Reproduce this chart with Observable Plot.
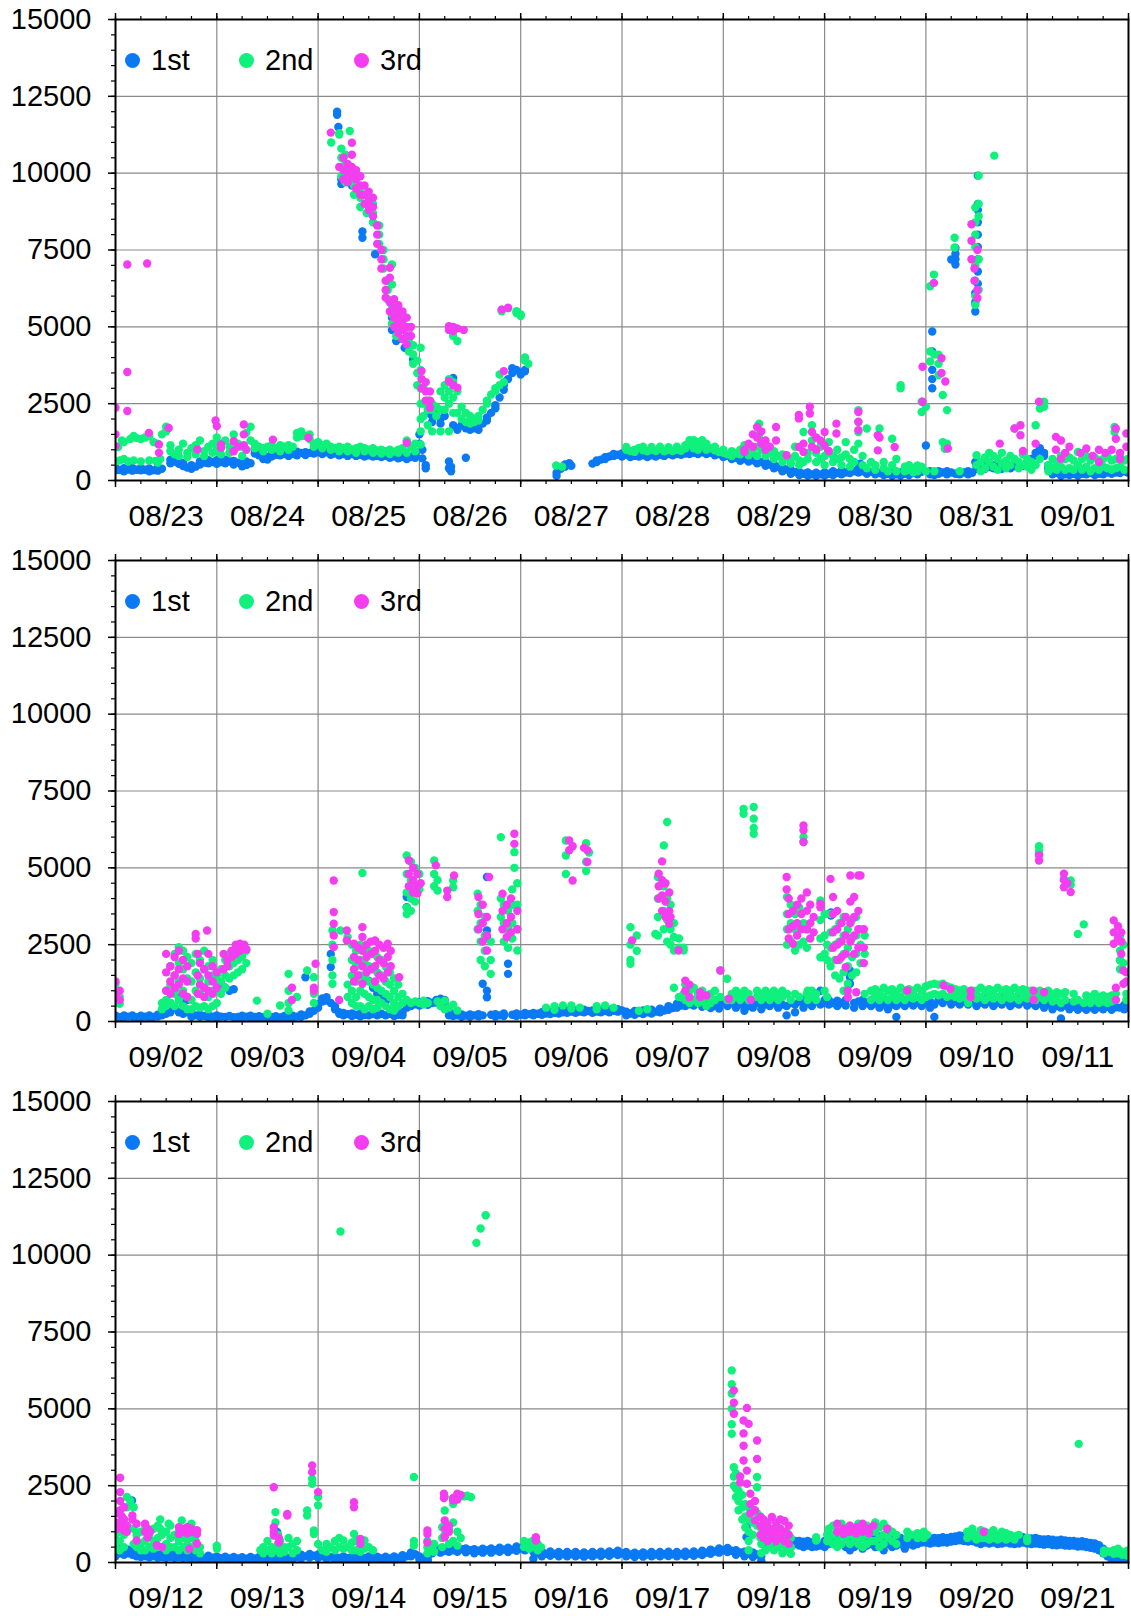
<!DOCTYPE html>
<html>
<head>
<meta charset="utf-8">
<script src="https://cdn.jsdelivr.net/npm/d3@7"></script>
<script src="https://cdn.jsdelivr.net/npm/@observablehq/plot@0.6"></script>
<style>
  body { margin: 0; background: #fff; }
  #wrap { position: relative; width: 1131px; height: 1616px; font-family: "Liberation Sans", Arial, Helvetica, sans-serif; }
  #wrap svg { display: block; }
  .leg { position: absolute; display: flex; align-items: center; font-size: 29px; color: #000; line-height: 1; }
  .leg i { display: inline-block; width: 15px; height: 15px; border-radius: 50%; margin-right: 11px; }
</style>
</head>
<body>
<div id="wrap"></div>
<script>
// ---------- labels, categories ----------
const seriesNames = ["1st", "2nd", "3rd"];
const seriesColors = ["#0a79f4", "#0ff07c", "#f43cf0"];
const panelStarts = ["2021-08-23", "2021-09-02", "2021-09-12"];
const yTicks = [0, 2500, 5000, 7500, 10000, 12500, 15000];
const yMinorTicks = d3.range(0, 15001, 500);

// ---------- data: rows are [hours since panel start, value, value, ...] ----------
const p1_1st = [[0,330,420],[1,340],[2,300,400],[3,360],[4,320,410],[5,350],[6,330,400],[7,350],[8,300,390],[9,330],[10,320,420],[11,380],
[13,560,680],[14,620],[15,540,640],[16,470,560],[17,420],[18,380,500],[19,450],[20,520,620],[21,580],[22,560,660],[23,600],[24,540,660],[25,600],[26,560,680],[27,620],[28,520,640],[29,580],[30,460,560],[31,500,620],[32,560],[33,880,1000],[34,820,940],[35,700,780],[36,680,760],[37,780,880],[38,840],[39,820,940],[40,860],[41,800,900],[42,860],[43,820,940],[44,900],[45,830,920],[46,900],[47,880,980],[48,920],[49,860,1000],[50,920],[51,840,960],[52,880],[53,820,940],[54,860],[55,800,920],[56,860],[57,800,900],[58,840],[59,780,900],[60,820],[61,780,880],[62,800],[63,760,860],[64,800],[65,740,860],[66,780],[67,720,840],[68,760],[69,700,820],[70,760],[71,740,860],
[52.5,12000,11900],[52.8,11500],[53.5,9800,9650],[54.5,9950],[56,9600],[58.5,8100,7900],[61.5,7360],[65.5,5300,4900],[66.5,4540],[68.5,4320],[70.5,3940],[72,1500,1200],[72.7,1000,720],[73.5,500,400],[74,2200],[75,2100,1900],[76,2250],[77,2000,1850],[78,2100],[79,620,400],[79.5,300,450],[80,3340,1800],[81,1700,1650],[82,1800],[83,740,1700],[84,1650,1750],[85,1700],[86,1800,1650],[87,1850],[88,1950,2050],[89,2200],[90,2350,2450],[91,2700],[92,2950,3100],[93,3300],[94,3500,3650],[95,3600],[96,3500,3450],[97,3600,3550],
[104.5,250,150],[105.5,380],[106.5,450,520],[107.5,560],[108,480],
[113,550],[114,600,650],[115,680],[116,700,760],[117,780],[118,800,860],[119,840],[120,780,880],[121,840],[122,760,860],[123,800],[124,780,880],[125,820],[126,760,880],[127,820],[128,780,900],[129,840],[130,800,900],[131,860],[132,820,920],[133,860],[134,840,940],[135,880],[136,860,960],[137,900],[138,860,960],[139,920],[140,860,960],[141,900],[142,820,920],[143,860],[144,760,860],[145,800],[146,700,800],[147,740],[148,640,760],[149,700],[150,620,720],[151,660],[152,560,680],[153,600],[154,480,600],[155,520],[156,400,520],[157,440],[158,300,420],[159,360],[160,220,340],[161,280],[162,180,280],[163,220],[164,160,260],[165,200],[166,150,250],[167,200],[168,160,260],[169,220],[170,180,300],[171,240],[172,200,320],[173,260],[174,240,380],[175,300],[176,260,380],[176.5,550],[177,300],[178,220,340],[179,280],[180,200,300],[181,240],[182,180,280],[183,220],[184,150,250],[185,200],[186,160,260],[187,220],[188,180,300],[189,240],[190,200,320],[191,280],
[192,1140],[193,200,300],[193.5,3000,3300,3600,4200,4850],[194,260,180],[195,220,300],[196,260],[197,200,300],[198,7190,260],[199,7570,7380,7200,7030,220],[200,280,200],[201,260],[202,200,300],[203,250],[203.7,5500,5800,6100,600],[204.3,6400,6800,7200,7600,8000,8400,8800,9000,9920],[204,380,480],[205,420],[206,380,480],[207,440],[208,400,500],[209,450],[210,380,480],[211,440],[212,400,500],[213,460],[214,420,520],[215,480],[216,500,600],[217,700],[218,800,900],[219,1000,1050],[220,900,800],[221,500,400],[222,300,200],[223,250],[224,150,280],[225,200],[226,180,300],[227,220],[228,160,280],[229,220],[230,200,300],[231,240],[232,180,300],[233,220],[234,200,320],[235,260],[236,220,340],[237,260],[238,240,360],[239,300],[239.8,260]];

const p1_2nd = [[0,620,1100],[0.6,1085],[1,650],[1.5,1300],[2,700,1250],[3,620],[3.5,1350],[4.3,1450,650],[5,1380],[6,620,1350],[7,1400],[8,650,1450],[9,1250],[9.5,640],[10,1200,580],[10.6,700],[11,1500],[12,1750,1600],[13,1150,950],[14,850],[15,1000,800],[16,1200],[17,900,760],[18,1050],[19,1150,850],[20,1300],[21,950,800],[22,1100],[23,1200,900],[24,1400,1000],[25,850,1200],[26,1300],[27,900,1100],[28,1500,1000],[29,1200],[30,800,1100],[31,1550],[32,1750,1300],[33,1200,1050],[34,1100],[35,950,1050],[36,1100],[37,1000,1150],[38,1050],[39,950,1150],[40,1100],[41,1000,1150],[42,1100],[43,1550,1400],[44,1600,1450],[45,1450],[46,1500,1350],[47,1200,1100],[48,1250],[49,1150,1050],[50,1200],[51,1000,1100],[52,1050],[53,950,1100],[54,1050],[55,950,1100],[56,1000],[57,900,1050],[58,1100],[59,950,1050],[60,1000],[61,900,1050],[62,980],[63,880,1000],[64,950],[65,860,1000],[66,940],[67,900,1000],[68,1050],[69,900,1300],[70,1100],[71,950,1200],
[51.1,11000],[53,11260,11300],[53.5,10800,10500,10200,9900],[54.5,10600,10300,10000,9700],[55.5,11370,10200,9800],[56.5,10000,9600,9300],[58,9500,9200,8900],[59.5,9300,9000,8700],[61,9000,8700,8400],[62.5,8300,8000,7700],[63.5,7500,7200,6900],[64.5,6500,6200,5900],[65.5,5700,5400,5100,7030,6380],[66.5,5600,5300,5000,4700],[68,5400,5000,4600],[69.5,4900,4500,4200],[70.5,4400,4100,3800],[71.5,3900,3500,3100],[72.3,4320,3600,3000,2500,2000,1600,1170],[73,3000,2500,2100],[74,2600,2300,1800],[75,2500,2300,1600],
[76,2400,2100],[77,2900,2300,1600],[78,3100,2700,2300],[79,3300,2900,2500,1600],[80,4860,4700,3200,2700,2200],[81,4540,2900,2200],[82,2400,2000],[83,2200,1900],[84,2100,1850],[85,2000,1900],[86,2100,1950],[87,2300],[88,2500,2600],[89,2800],[90,2900,3000],[91,3450,3100],[91.5,5560,5510],[92,3200],[93,5600],[95,5510,5450],[96,5400,5350],[97,4000,3900],[97.8,3800],
[104.4,490],[105.8,450],[121,1000,1090],[122,960],[123,1000,930],[124,1060],[125,980,1100],[126,950],[127,1000,1090],[128,960],[129,1020,1100],[130,950],[131,990,1080],[132,960],[133,1000,1100],[134,970],[135,1050,1150],[136,1310,1200],[137,1310,1050],[138,1250,1000],[139,1310,1150],[140,1200,1000],[141,1050],[142,980,1100],[143,930],[144,900,1000],[145,850],[146,800,950],[147,880],[148,850,1000],[149,950,1150],[150,820,1000],[151,900],[152,1100,800],[152.5,1850,1500],[153,1300,1000],[154,800,1050],[155,900],[156,700,950],[157,800],[158,600,850],[159,750],[160,550,700],[161,1100,800],[162,500,650],[163,1580,600],[164,900,700],[165,1800,1300],[166,600,900],[167,1100,700],[168,500,800],[169,1250,900],[170,600,800],[171,1000,700],[172,500,750],[173,1250,850],[174,700,450],[175,1000,600],[176,2290,1900,1580,1200],[177,800,500],[178,1690,400],[179,600],[180,350,500],[181,1690],[182,400,600],[183,300],[184,1360,500],[185,700,300],[186,3100,3000],[187,450,300],[188,350,500],[189,270,400],[190,300,490],[191,2560,2230,450],[192,2400,300],[193,4200,3870,6320],[193.9,6700],[194,4100,300],[195,4090,3430,3800],[196,1250,2780],[196.5,1030,1100],[197,2290,1200],[198.8,7900,7580],[200,300],
[203.7,8880,8400,8000,7600,7000,6500,6000,5720],[204.5,9920,9000,8600,7200,6200],[208.2,10570],[204,820,500],[205,600,300],[206,750,400],[207,900,600],[208,800,450],[209,700,350],[210,900,550],[211,650,400],[212,800,500],[213,1690,700],[214,600,400],[215,850,500],[216,700,450],[217,600,350],[218,1800,500],[219,2340,700],[220,2560,2400],[221,500,300],[222,700,400],[223,600,350],[224,800,450],[225,700,350],[226,750,400],[227,650,350],[228,930,500],[229,700,350],[230,800,450],[231,650,300],[232,750,400],[233,650,350],[234,700,450],[235,800,400],[236,650,350],[236.7,1740,1580],[237,700,400],[238,800,450],[239,650,350],[239.8,700]];

const p1_3rd = [[0,2365,1500,1120],[2.8,7030,3530,2260],[7.5,7060],[7.9,1550],[10.3,1170,900],[12.6,1710],[19.4,1010],[23.7,1950],[24,1770],[25,1170,1060],[28,1280,950],[29,1100],[30.4,1820,1500,1150],[31,1000],[37.3,1330],[45.7,1390],[69,1230],
[51,11320],[53,10200],[54,10500,10100,9800],[55,10300,10000,9700],[56,10990,10600,10200,9900],[57,10100,9800,9500],[58,9900,9600,9300],[59,9600,9300,9000],[60,9400,9100,8800],[61,9200,8900,8600],[62,8300,8000,7700],[63,7500,7200,6900],[64,6500,6200,5950],[65,6920,6600,5800,5500],[66,5900,5600,5300,5000],[67,5700,5400,5100,4800],[68,5500,5200,4900,4600],[69,5300,5000,4700,4430],[70,5000,4700],[72.5,3560,3300,3000],[73.5,3200,2900,2600],[74.5,2900,2600,2370],
[79,5020,4900,3230],[80,4860,5000,3100],[81,3020,4950],[82.5,4900],[91.5,5560],[92,3560],[93,5620],
[149,1000,930],[150,1200],[151,1500,1100],[152,1740,1400],[153,1600,1200],[154,1300,1000],[155,1100],[156.5,1740,1300],[159,820],[161.9,2130,2020,1090],[163,1200,930],[164.5,2400,2180],[165,1580,1100],[166,1400,1000],[167,1300],[168,1580,1140],[169,960],[170.8,1850,1530],[176,2230,1910,1640],[180.6,1470,980],[181,1400],[184.6,1090],[191.2,3700,2560],[193.9,6430],[195.7,3980,3500],[196.6,3220],[197.2,1040],[202.8,8340,7800,7200],[203.5,6900,6500],[204.2,6200,5940,7500],[209.5,1200],[213,1690],[214.4,1800,1470],[215,960],[218,1200],[218.8,2560],[222.8,1420,1000],[224,1300,710],[225,900],[226,1100],[228.6,900],[230,1040],[231.5,800],[233,1000,600],[234.5,900],[236,1000],[237,1690,1360],[238,900,700],[239.5,1530,1100]];

const p2_1st = [[0,150,200],[1,140],[2,130,200],[3,160],[4,150,200],[5,140],[6,130,190],[7,160],[8,140,200],[9,150],[10,160,220],[11,300,200],[12,410,250],[13,600,300],[14,1000,450],[15,800,300],[16,575,250],[17,700,300],[18,250,150],[19,200],[20,150,220],[21,180],[22,140,210],[23,160],[24,120,200],[25,1230,160],[26,1100,150],[27,1000,180],[28,1050,140],[29,150],[30,120,190],[31,160],[32,110,190],[33,150],[34,100,170],[35,140],[36,100,180],[37,140],[38,90,170],[39,130],[40,100,180],[41,150],[42,120,190],[43,160],[44,150,230],[45,1440,200],[46,250,330],[47,350],[48,450,560],[49,650,750],[50,790,680],[51,2200,1770,600],[52,500,400],[53,300,250],[54,200,280],[55,240],[56,180,260],[57,220],[58,170,250],[59,210],[60,1330,200],[61,1100,240],[62,900,200],[63,790,250],[64,650,200],[65,250],[66,180,260],[67,220],[68,200,300],[69,4050,3720,450],[70,500,600],[71,560],[72,520,640],[73,580],[74,540,660],[75,600],[76,620,700],[77,740,650],[78,700,575],[79,300,200],[80,180,250],[81,200],[82,150,230],[83,190],[84,150,230],[85,200],[86,170,240],[87,1230,200],[88,790,1000,2960,2750,4700],[89,220],[90,160,240],[91,200],[92,180,260],[93,1880,1550,3070],[94,220],[95,180,260],[96,220],[97,200,280],[98,240],[99,200,280],[100,250],[101,220,300],[102,260],[103,240,320],[104,280],[105,260,340],[106,300],[107,280,360],[108,320],[109,280,360],[110,320],[111,300,380],[112,340],[113,280,360],[114,320],[115,300,380],[116,340],[117,300,380],[118,350],[119,320,400],[120,360],
[121,200,320],[122,260],[123,220,340],[124,280],[125,240,360],[126,300],[127,260,380],[128,320],[129,300,420],[130,360],[131,380,500],[132,440],[133,450,580],[134,520],[135,500,640],[136,560],[137,520,680],[138,600],[139,480,640],[140,560],[141,440,600],[142,500],[143,420,560],[144,620],[145,500,700],[146,600],[147,450,650],[148,550],[149,350,600],[150,500],[151,450,700],[152,600],[153,400,650],[154,550],[155,500,700],[156,600],[157,450,650],[158,550],[159,200,500],[160,600],[161,300,550],[162,650],[163,450,700],[164,600],[165,500,750],[166,650],[167,1000,550],[168,700,600],[169,550,700],[169.5,3550,3450],[170,600],[171,500,680],[172,600],[173,520,700],[174,1660,1430,1230],[175,600,450],[176,650],[177,500,700],[178,600],[179,500,700],[180,600],[181,450,650],[182,550],[183,400,650],[184,550],[185,150,500],[186,600],[187,500,700],[188,600],[189,520,700],[190,620],[191,500,700],[192,600],[193,450,650],[194,150,550],[195,700],[196,600,800],[197,700],[198,550,750],[199,650],[200,550,750],[201,650],[202,550,750],[203,650],[204,500,700],[205,620],[206,550,750],[207,650],[208,500,720],[209,620],[210,550,750],[211,650],[212,500,700],[213,600],[214,550,740],[215,650],[216,520,720],[217,600],[218,500,680],[218.8,5460],[219,580],[220,450,650],[221,550],[222,400,600],[223,500],[224,100,450],[225,520],[226,400,600],[227,480],[228,380,560],[229,460],[230,380,560],[231,460],[232,380,560],[233,460],[234,400,560],[235,480],[236,380,560],[237,460],[238,1990,450],[239,400,540],[240,460]];

const p2_2nd = [[0,1220,900,600],[1,800,575],[11,600,400],[12,1000,700,500],[13,1800,1200,600],[14,2200,1500,900,500],[15,2420,1900,1300,700],[16,2300,1700,1000,500],[17,2100,1400,800,400],[18,1900,1300,700,400],[19,2200,1600,1000,500],[20,2000,1400,900,450],[21,2300,1700,1100,500],[22,1800,1300,800,400],[23,2000,1500,1000,500],[24,1500,1000,600],[25,1700,1300,900],[26,2000,1500,1100],[27,2200,1800,1400],[28,2300,1900,1500],[29,2400,2000,1600],[30,2420,2100,1700],[31,2300,1900],[33.5,680],[36,250],[39,520],[41,1550,1000,600,360],[43,800],[45.4,1660],[47,1440,900,600],[51.4,2960,2500,2000,1500,1230],[53.3,2960],[55,2750,1200,800],[56,2500,2000,1500,1000,600],[57,2300,1800,1300,800,500],[58,2500,2000,1500,1000,500],[58.5,4830],[59,2400,1900,1400,900,400],[60,2300,1800,1300,800,500],[61,2200,1700,1200,700,400],[62,2100,1600,1100,700,450],[63,2000,1500,1000,600],[64,1800,1300,900,500],[65,1600,1200,800,400],[66,1400,1000,600,360],[67,1200,800,500],[68,900,600],[69,5400,4800,4200,3700,3500,700],[70,5200,4600,4000,3600,600],[71,5000,4400,3900,650],[72,4800,4300,600],[73,550,680],[74,600],[75.5,5240,4800,4400],[76.3,4600,4260,650],[77,500],[78,680,400],[79,450],[80,4590,4370,550],[81,360],[85.8,4160,3600,3000],[86.5,3800,3200,2600,2000],[87.5,3400,2800,2300,1800],[88.9,2600,2000,1550],[91.3,6000,4000,3400],[92,3800,3200,2600],[93,3600,3000,2400],[94,4300,3800,3200,2700],[94.5,5510,5000],[95.2,4500,3800,3000,2310],[102,450],[104,500,380],[106,520],[106.7,5890,5400,4800],[108,420,520],[110,450],[111.5,5800,5200,4900],[112.2,5500],[114,400,500],[116,520],[118,450],
[122,3070,2500,2000,1880],[123.5,2800,2300],[124,350],[126,400],[127.9,2850],[128.5,4700,4000,3400,2800],[129.9,5730,4400,3600,3000],[130.7,6490,4000,3300,2600],[131.5,3800,3000,2500],[132.3,3200,2750,2310,1100],[133.5,2700,2400,800],[134.6,2400,2310,900],[135,1200,700],[136,1000,600],[137,1100,700],[138,900,600],[139,1000,650],[140,800,500],[141,900,600],[142,1000,700],[143.3,1660,800],[144.9,1390,700],[146,900,700],[147,800,1000],[148,700,900],[148.8,6920,6760],[149,800,1000],[150,700,900],[151.2,6980,6600,6300,6110],[152,800,1000],[153,700,900],[154,800,1000],[155,900,700],[156,800,1000],[157,700,900],[158,800,1000],[159.1,4050,3500,3000,2500,900],[160,3800,3200,2600,700],[161,3500,3000,2310,900],[162,3700,3100,2500,800],[163,6000,5840,3200,2600],[163.8,3000,2400,900],[164,700,1000],[165,800,1000],[166,700,900],[167,3940,3300,2700,2090],[168,3500,2800,2200,1000],[168.6,2500,2000,800],[169.4,3500,2900,2400,1800],[170.5,3000,2500,2000,1500],[171.5,3200,2600,2000,1400],[172.5,3400,2800,2200,1600,1000],[173.5,3000,2400,1800,1230],[174.5,3300,2700,2100,1500],[175.5,3400,2800,2200,1600],[176.5,3000,2500,1900],[177.5,2800,2200,900],[179,700,1000],[180,800,1050],[181,700,950],[182,800,1100],[183,700,1000],[184,800,1050],[185,700,950],[186,800,1100],[187,700,1000],[188,800,1050],[189,750,1000],[190,800,1100],[191,700,1000],[192,800,1150],[193,850,1200],[194,900,1230],[195,850,1200],[196,900,1230],[197,800,1150],[198,850,1100],[199,800,1050],[200,750,1000],[201,800,1050],[202,900,600],[203,800,1000],[204,750,1000],[205,800,1100],[206,700,1000],[207,800,1050],[208,750,1000],[209,800,1100],[210,700,1000],[211,800,1050],[212,750,1000],[213,800,1100],[214,700,1000],[215,800,1050],[216,750,1000],[217,800,1000],[218,700,950],[218.8,5700,5550],[219,800,1000],[220,700,950],[221,800,1000],[222,650,900],[223,700,950],[224,600,900],[224.7,4640],[225,700,950],[226.3,4590,4450],[227,650,900],[228,2850,700],[229.4,3160,600],[230,650,850],[231,600,800],[232,700,900],[233,600,800],[234,650,850],[235,600,800],[236,650,850],[237,700,900],[238,2800,2300,2000,1700],[238.8,2500,1900],[239.5,700,900]];

const p2_3rd = [[0,1300,900,700],[1,1000,700],[12,2200,1600,1000],[13,1800,1300,900],[14,2100,1500,1100],[15,2300,1700,1200],[16,2000,1400,900],[17,1800,1300,800],[19,2850,2700],[19.5,2200,1500,900],[20,1900,1200],[21,1700,1100,800],[21.7,2960],[22,2200,1500,1000],[23,1800,1300,900],[24,1600,1100],[25.6,2200,1700],[26.5,2000,1800],[27.5,2300,2100],[28.5,2500,2200],[29.5,2530,2300],[30.5,2500,2400],[31,2350],[41.8,1100,700],[47,1100,1000],[47.4,1880],[51.7,4590,3560,3180,2800,2420],[53,700],[54.8,2960,2640],[56.5,2530,2100,1700,1300],[57.5,2400,2000,1500],[58.5,3070,2750,2300,1800,1230],[59.5,2500,2100,1600],[60.5,2600,2200,1700],[61.5,2640,2300,1800,1300],[62.5,2500,2000,1500],[63.5,2400,1900,1400],[64.5,2530,2100,1600],[65.2,2300,1800],[67.2,1440],[69.5,5240,4800,4400],[70.5,5000,4600,4200],[71.5,4800,4400,4160],[72.3,4500],[75.9,5080],[78.6,4260,4050],[80.2,4750],[86,4050,3500,3000],[87,3800,3200,2600],[88,3400,2800,2310],[88.5,4700],[91.7,4160,3600,3000],[92.7,3800,3200,2750],[93.7,4000,3400,2900],[94.5,6110,5780],[95.2,3600,3000],[107.5,5890,5570],[108.3,4590,5700],[111,5650],[111.8,5190,5570],
[122.4,2640],[128.7,4810,4400,4000],[129.5,5210,4600,4100,3600],[130.3,4500,3900,3400],[131.2,4200,3600,3180],[131.5,3400],[133.4,2310],[135,1330,1000],[136,1200,790],[138.5,950,800],[140,850],[143.3,1660],[145.3,740],[150.5,700],[159,4700,4300],[159.5,4000,3500,3000,2700],[160.5,3600,3100,2530],[161.5,3800,3200,2800],[162.5,4000,3500,3000],[163,6380,6220,5840],[163.8,4200,3600,3000],[164.6,3800,3200,2700],[165.4,3400,2900],[167,3830,3720],[169.4,4640],[170,4050,3500,2900,2400],[171,3600,3000,2500,2000],[172,3200,2600,2100],[173,3400,2800,2200,1770],[174.1,4750,3900,3200,2600],[175,4050,3400,2800,2200],[176,4750,3600,3000,2400],[176.5,4750],[177.3,3000,2400,1900],[173.5,1000,790],[175.5,950],[187.6,1010],[196.2,1170],[197.8,1060],[202.6,1000,800],[217.5,1000,700],[218.8,5400,5240],[220,950],[224.7,4810,4600,4370],[225.5,4500],[226.3,4210],[236.5,3290,2900,2530],[237.5,3100,2700],[238.3,2900,2600,2200],[238.8,1660,1230],[237,1100,700],[239.5,1600,1300]];

const p3_1st = [[0,200,400],[1,300,450],[2,250,400],[3,300,420],[3.9,2020],[4,250,400],[5,200,350],[6,180,320],[7,200,340],[8,170,300],[9,200,330],[10,160,300],[11,180,320],[12,150,300],[13,180,320],[14,150,290],[15,170,310],[16,150,280],[17,160,300],[18,140,260],[19,160,280],[20,120,240],[21,150],[22,100,220],[23,160],[24,90,200],[25,140],[26,80,190],[27,130],[28,80,180],[29,130],[30,70,170],[31,120],[32,80,180],[33,130],[34,80,180],[35,130],[36,90,190],[37,140],[38,100,200],[38.3,990],[39,150],[40,100,200],[41,150],[42,120,220],[43,170],[44,140,250],[45,200],[46,160,280],[47,220],[48,150,260],[49,200],[50,120,230],[51,170],[52,100,210],[53,150],[54,90,200],[55,140],[56,90,200],[57,150],[58,100,210],[59,150],[60,90,200],[61,140],[62,80,190],[63,130],[64,80,190],[65,130],[66,90,200],[67,150],[68,120,240],[69,200],[70,200,330],[71,270],[72,100,200],[73,150],[74,80,200],[75,300,420],[76,380],[77,320,450],[78,380],[78.6,1150,1050],[79,350,480],[80,400],[81,350,500],[82,430],[83,330,460],[84,400],[85,300,430],[86,380],[87,320,450],[88,400],[89,320,460],[90,400],[91,350,480],[92,420],[93,340,480],[94,420],[95,380,520],[96,450],[97,400,550],[98,480],[99,120,350],[100,300],[101,200,360],[102,280],[103,220,360],[104,280],[105,200,340],[106,270],[107,200,340],[108,270],[109,200,340],[110,260],[111,190,330],[112,260],[113,200,340],[114,270],[115,210,350],[116,280],[117,220,360],[118,300],[119,240,380],[120,300],
[121,200,340],[122,260],[123,180,320],[124,260],[125,190,330],[126,260],[127,200,340],[128,260],[129,200,340],[130,270],[131,210,350],[132,270],[133,200,340],[134,270],[135,210,350],[136,280],[137,220,360],[138,290],[139,240,380],[140,320],[141,280,420],[142,360],[143,320,460],[144,400],[145,340,470],[146,380],[147,250,400],[148,330],[149,200,350],[149.5,1150,825],[150,280],[151,180,330],[152,260],[153,50,200],[154,500,650],[155,600,800],[156,550,750],[157,500,700],[158,600,825],[159,550,750],[160,500,700],[161,600,700],[162,550,700],[163,500,680],[164,550,700],[165,500,650],[166,520,700],[167,550],[168,500,700],[169,600,800],[170,650,900],[171,550,850],[172,600,930],[173,500,800],[174,400,750],[175,500,850],[176,600,900],[177,450,800],[178,550,850],[179,600,900],[180,500,800],[181,550,850],[182,400,750],[183,600,850],[184,500,800],[185,550,750],[186,600,800],[187,450,700],[188,600,850],[189,550,800],[190,600,850],[191,650,800],[192,650,800],[193,620,780],[194,650,800],[195,630,790],[196,660,820],[197,650,800],[198,680,830],[199,700,850],[200,720,880],[201,700,860],[202,680,830],[203,700,860],[204,650,800],[205,600,780],[206,650,820],[207,620,800],[208,650,820],[209,600,780],[210,620,800],[211,650,820],[212,620,800],[213,600,780],[214,620,800],[215,650,820],[216,620,800],[217,600,780],[218,620,800],[219,600,760],[220,580,750],[221,600,760],[222,570,740],[223,560,720],[224,580,740],[225,550,720],[226,540,700],[227,550,700],[228,520,680],[229,530,690],[230,500,660],[231,480,640],[232,450,620],[233,400,560],[234,300,450],[235,200,350],[236,100,260],[237,80,220],[238,90,230],[239,100,240],[240,120]];

const p3_2nd = [[0,1150,800,500],[1,1000,700,400],[2,1400,900,500],[2.7,2130,1800],[3.5,2000],[4.3,1800,1100,600],[5,900,500],[6,1000,600,400],[7,1200,700,400],[8,900,500],[9,1100,700,450],[10,1200,800,500],[10.6,1400,1100],[11,900,500],[12,1000,600,400],[12.6,1260],[13,1200,800,500],[14,900,500],[15,1000,700,400],[15.7,1370],[16,800,500],[17,1000,700,400],[18,1260,800,500],[19,700,400],[20,500,300],[24,445,550],[34.3,400],[35,500,300],[36,700,400],[37,500,300],[37.9,1640,1300],[38.5,900,600,400],[39,700,300],[40,500,350],[41,800,500],[42,600,300],[43,400,700],[45.4,1690,1530],[46.6,2720,2560],[47,1040,930],[48,2130,1860,600],[49,400],[50,600,350],[51,500],[52,700,400],[53,800,500],[53.3,10770],[54,715,450],[55,500],[56,400,650],[56.5,930],[57,700,400],[58,600,350],[59,715,450],[60,500],[61,400],[70.7,2780,700,550],[73.9,700,500,300],[74.5,450],[75.5,600,350],[77.4,1150,800,500],[78,2130,1690,900],[79,1100,600],[80,1900,1300,700],[81,1000,550],[81.8,2180,800],[82.5,2150],[83.3,2170],[84.2,2130],[85.5,10400],[86.5,10870],[87.7,11300],[96.8,500,700],[98,650,450],[99,715,500],[100,600,400],[100.8,500],
[146,6250,5800,5500,5000,4500,4190],[146.5,3100,2800,2500],[147,2900,2400,2130],[147.6,2340,2000,1700],[148.5,2200,1800,1400],[149.2,1900,1500,1150],[150,1800,1400,1000,700,400],[151,1700,1300,900],[152,2780,2450,1600,1200],[152.8,1500,1150,800],[153,900,600,300],[154,1000,700,400],[155,1100,800,500],[156,1000,700,400],[157,1150,800,500],[158,900,600,300],[159,1000,700,400],[160,800,500,280],[166,825,715],[168.6,900,700],[169,1100,800],[170,1200,900,600],[171,1000,700,500],[172,1260,900,600],[173,1100,800],[174,1200,900,600],[175,1000,700],[176,1260,900,600],[177,1100,800,500],[178,1200,900,600],[179,1000,700],[180,1300,1000,700],[181,1150,800,500],[182,1260,900,600],[183,1100,800],[184,1000,700],[185,900,600],[187.6,1000,800],[188.5,900],[190,950,800],[191.5,1000,800],[192.3,900],[201.8,1000,800],[203,1100,850],[204,900,750],[205,1050,800],[206,1000,800],[207,950,750],[208,1050,800],[209,900,750],[210,1000,800],[211,950,750],[212,900,800],[213,850,750],[214,900],[216,800,700],[228.2,3860],[234.2,390,300],[235.5,350],[236.5,400,280],[237.5,450,300],[238.5,350,250],[239.7,380,230]];

const p3_3rd = [[0.3,1600,1300,1100],[1.1,2760,2290,2000,1700],[1.5,1500,1200],[2,1800,1400,1040],[2.7,1200,1000],[4,1530,1400],[5,1260,715],[7,1260,1000],[7.6,1100,820],[8.2,1000],[9.8,560],[11,500],[15,1150,930],[16,1100,1000],[17,1150,950],[17.5,450],[18,1100,1000],[19.3,1050,930,610],[37.5,2450,1150,1000,880],[38.7,800,650],[40.7,1580,1530],[46.6,3160,2940],[48,2290],[56.5,1960,1800],[58,770,610],[73.9,1040,930,650],[77.8,2240,2100],[78,1370,1100,820],[79,1200,1000],[80,2100,2020],[81,2240,2050],[81.8,2200],[99.6,820,715],
[146.5,5600,5200,4840],[148.8,4620,4200,3800,3320],[149.6,5030,2990,2560],[150,4510],[148,2800,2600],[150.4,2240,1900,1600],[151.5,2000,1700,1370],[152,3970,3370],[152.8,1480,1200,900],[153.5,1400,1100,800],[154.5,1300,1000,700],[155.5,1480,1100,800],[156.5,1300,1000,700],[157.5,1400,1100,800],[158.5,1350,1000,700],[159.5,1200,900,610],[171,1260,1000],[172.5,1100,930],[174,1200,1000],[175.5,1150,950],[177,1260,1000],[178.5,1100,950],[179.6,1200],[182.8,1100],[205.7,990]];

const panelData = [
  [p1_1st, p1_2nd, p1_3rd],
  [p2_1st, p2_2nd, p2_3rd],
  [p3_1st, p3_2nd, p3_3rd]
];

// ---------- build ----------
(function () {
  function toPoints(rowsList, t0) {
    const pts = [];
    rowsList.forEach((rows, si) => {
      for (const [h, ...vs] of rows) for (const v of vs)
        pts.push({t: new Date(+t0 + h * 3600e3), v, s: seriesNames[si]});
    });
    return pts;
  }

  const wrap = document.getElementById("wrap");
  const heights = [541, 541, 534];
  let yOff = 0;
  panelStarts.forEach((start, pi) => {
    const t0 = new Date(start + "T00:00:00Z");
    const t1 = d3.utcDay.offset(t0, 10);
    const days = d3.utcDay.range(t0, d3.utcHour.offset(t1, 1));
    const sixH = d3.utcHour.every(6).range(t0, d3.utcHour.offset(t1, 1));
    const noons = d3.utcDay.range(t0, t1).map(d => d3.utcHour.offset(d, 12));
    const data = toPoints(panelData[pi], t0);
    const h = heights[pi];
    const blank = () => "";
    const chart = Plot.plot({
      width: 1131, height: h,
      marginLeft: 115, marginRight: 3, marginTop: 19, marginBottom: h - 480,
      x: {type: "utc", domain: [t0, t1], label: null},
      y: {domain: [0, 15000], label: null},
      color: {domain: seriesNames, range: seriesColors},
      style: {fontFamily: "'Liberation Sans', Arial, Helvetica, sans-serif", fontSize: "29px", color: "#000", background: "#fff"},
      marks: [
        Plot.ruleX(days.slice(1, -1), {stroke: "#8a8a8a", strokeWidth: 1.2}),
        Plot.ruleY(yTicks.slice(1, -1), {stroke: "#8a8a8a", strokeWidth: 1.2}),
        Plot.dot(data, {x: "t", y: "v", fill: "s", r: 4.2, clip: true}),
        Plot.axisY({ticks: yMinorTicks, tickSize: 4, tickFormat: blank, strokeWidth: 1.2}),
        Plot.axisY({ticks: yTicks, tickSize: 7, tickPadding: 17, fontSize: 29, strokeWidth: 1.5, tickFormat: d3.format("d")}),
        Plot.axisX({anchor: "bottom", ticks: sixH, tickSize: 4, tickFormat: blank, strokeWidth: 1.2}),
        Plot.axisX({anchor: "bottom", ticks: days, tickSize: 7, tickFormat: blank, strokeWidth: 1.5}),
        Plot.axisX({anchor: "top", ticks: sixH, tickSize: 4, tickFormat: blank, strokeWidth: 1.2}),
        Plot.axisX({anchor: "top", ticks: days, tickSize: 7, tickFormat: blank, strokeWidth: 1.5}),
        Plot.axisX({anchor: "bottom", ticks: noons, tickSize: 0, tickPadding: 24, fontSize: 30, tickFormat: d3.utcFormat("%m/%d")}),
        Plot.frame({stroke: "#000", strokeWidth: 2})
      ]
    });
    wrap.appendChild(chart);

    // legend overlay inside the plot frame
    const lefts = [125, 239, 354];
    seriesNames.forEach((name, si) => {
      const item = document.createElement("div");
      item.className = "leg";
      item.style.left = lefts[si] + "px";
      item.style.top = (yOff + 60 - 14) + "px";
      item.style.height = "28px";
      const dot = document.createElement("i");
      dot.style.background = seriesColors[si];
      item.appendChild(dot);
      item.appendChild(document.createTextNode(name));
      wrap.appendChild(item);
    });
    yOff += h;
  });
})();
</script>
</body>
</html>
